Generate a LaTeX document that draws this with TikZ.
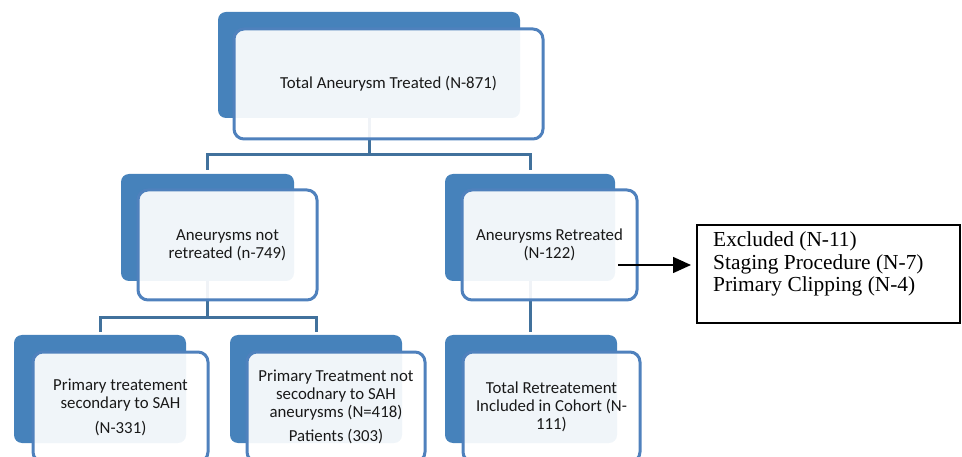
\documentclass[tikz,border=0pt]{standalone}
\usepackage{fontspec}
\setmainfont{Carlito}
\newfontfamily\serifx{Liberation Serif}
\usetikzlibrary{calc,arrows.meta}
\pgfdeclarelayer{bg}
\pgfdeclarelayer{mid}
\pgfsetlayers{bg,mid,main}
\definecolor{darkb}{HTML}{4682BB}
\definecolor{borderb}{HTML}{4F81BD}
\definecolor{connb}{HTML}{41719C}
\tikzset{
  darkbox/.style={fill=darkb, draw=none, rounded corners=8pt, inner sep=0pt, outer sep=0pt},
  frontbox/.style={draw=borderb, line width=3pt, fill=white, fill opacity=0.92, draw opacity=1, text opacity=1,
     rounded corners=10pt, inner sep=0pt, outer sep=0pt, align=center,
     font=\fontsize{16.8}{18}\selectfont, text=black!90},
  conn/.style={draw=connb, line width=3pt},
  exbox/.style={draw=black, line width=1.3pt, inner sep=0pt, outer sep=0pt},
  extext/.style={align=left, anchor=west, inner sep=0pt, font=\serifx\fontsize{21.4}{22.5}\selectfont},
  arr/.style={line width=1.5pt, -{Triangle[length=18pt,width=16pt]}}
}
\begin{document}
\begin{tikzpicture}[x=1pt,y=1pt]
\useasboundingbox (0,0) rectangle (962,-457);
\clip (0,0) rectangle (962,-457);
\begin{pgfonlayer}{mid}
\node[darkbox, minimum width=302pt, minimum height=106pt] (d0) at (369,-65) {};
\node[darkbox, minimum width=173pt, minimum height=107pt] (d1) at (207.5,-227.5) {};
\node[darkbox, minimum width=170pt, minimum height=107pt] (d2) at (530,-227.5) {};
\node[darkbox, minimum width=172pt, minimum height=108pt] (d3) at (100,-389) {};
\node[darkbox, minimum width=172pt, minimum height=108pt] (d4) at (316,-389) {};
\node[darkbox, minimum width=172pt, minimum height=108pt] (d5) at (531,-389) {};
\end{pgfonlayer}
\node[frontbox, minimum width=309pt, minimum height=110pt] (f0) at (388.5,-84) {Total Aneurysm Treated (N-871)};
\node[frontbox, minimum width=179pt, minimum height=110pt] (f1) at (227.5,-245) {Aneurysms not\\retreated (n-749)};
\node[frontbox, minimum width=175pt, minimum height=110pt] (f2) at (549.5,-245) {Aneurysms Retreated\\(N-122)};
\node[frontbox, minimum width=175pt, minimum height=110pt] (f3) at (120.5,-407) {Primary treatement\\secondary to SAH\\[7pt](N-331)};
\node[frontbox, minimum width=178pt, minimum height=110pt] (f4) at (336,-407) {Primary Treatment not\\secodnary to SAH\\aneurysms (N=418)\\[6pt]Patients (303)};
\node[frontbox, minimum width=177pt, minimum height=110pt] (f5) at (551.5,-407) {Total Retreatement\\Included in Cohort (N-\\111)};
\begin{pgfonlayer}{bg}
\draw[conn] (d0.center) |- ($(d1.north)+(0,19)$) -- ($(d1.north)+(0,4)$);
\draw[conn] (d0.center) |- ($(d2.north)+(0,19)$) -- ($(d2.north)+(0,4)$);
\draw[conn] (d1.center) |- ($(d3.north)+(0,17)$) -- ($(d3.north)+(0,3)$);
\draw[conn] (d1.center) |- ($(d4.north)+(0,17)$) -- ($(d4.north)+(0,3)$);
\draw[conn] (d2.center) -- ($(d2.center |- d5.north)+(0,3)$);
\end{pgfonlayer}
\node[exbox, minimum width=263pt, minimum height=98pt] (ex) at (828.5,-274) {};
\node[extext] (ext) at (713,-264) {Excluded (N-11)\\Staging Procedure (N-7)\\Primary Clipping (N-4)};
\coordinate (a0) at (618,-265);
\draw[arr] (a0) -- ($(ex.west |- a0)+(-6,0)$);
\end{tikzpicture}
\end{document}
